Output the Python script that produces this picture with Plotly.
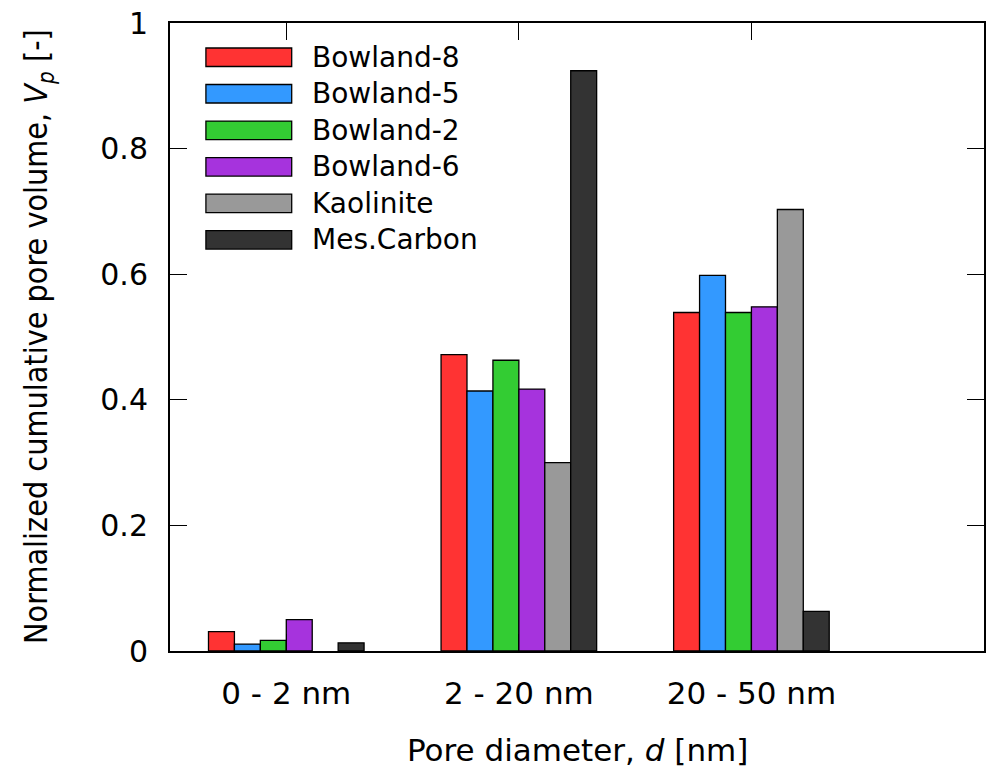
import plotly.graph_objects as go

categories = ["0 - 2 nm", "2 - 20 nm", "20 - 50 nm"]
series_names = ["Bowland-8", "Bowland-5", "Bowland-2", "Bowland-6", "Kaolinite", "Mes.Carbon"]
bowland8 = [0.031, 0.472, 0.539]
bowland5 = [0.011, 0.414, 0.598]
bowland2 = [0.017, 0.463, 0.539]
bowland6 = [0.050, 0.417, 0.548]
kaolinite = [None, 0.300, 0.703]
mes_carbon = [0.013, 0.924, 0.063]
y_ticks = [0, 0.2, 0.4, 0.6, 0.8, 1]
y_tick_labels = ["0", "0.2", "0.4", "0.6", "0.8", "1"]

values = [bowland8, bowland5, bowland2, bowland6, kaolinite, mes_carbon]
colors = ["#ff3333", "#3399ff", "#33cc33", "#a633dd", "#999999", "#333333"]

W, H = 991, 776
L, R, T, B = 170, 986, 20, 651  # plot area in px
FONT = "DejaVu Sans"

fig = go.Figure()
for name, vals, col in zip(series_names, values, colors):
    fig.add_trace(go.Bar(
        x=[0, 1, 2], y=vals, name=name,
        marker=dict(color=col, line=dict(color="black", width=1.3)),
        showlegend=False,
    ))

def px_x(p):
    return (p - L) / (R - L)

def px_y(p):
    return (B - p) / (B - T)

shapes = []
annotations = []
row0 = 54.4
dy = 36.7
for i, (name, col) in enumerate(zip(series_names, colors)):
    yc = row0 + i * dy
    shapes.append(dict(
        type="rect", xref="paper", yref="paper",
        x0=px_x(206), x1=px_x(292), y0=px_y(yc - 9.3), y1=px_y(yc + 9.3),
        fillcolor=col, line=dict(color="black", width=1.3),
    ))
    annotations.append(dict(
        xref="paper", yref="paper", x=px_x(310), y=px_y(yc),
        xanchor="left", yanchor="middle", text=name, showarrow=False,
        font=dict(family=FONT, size=28, color="black"),
    ))

annotations.append(dict(
    xref="paper", yref="paper", x=0.5, y=0, yshift=-(750 - B),
    xanchor="center", yanchor="middle",
    text="Pore diameter, <i>d</i> [nm]", showarrow=False,
    font=dict(family=FONT, size=31, color="black"),
))
annotations.append(dict(
    xref="paper", yref="paper", x=0, y=0.5, xshift=-(L - 38),
    xanchor="center", yanchor="middle", textangle=-90,
    text="Normalized cumulative pore volume, <i>V<sub>p</sub></i> [-]", showarrow=False,
    font=dict(family="DejaVu Sans Condensed, DejaVu Sans", size=32, color="black"),
))

fig.update_layout(
    width=W, height=H,
    margin=dict(l=L, r=W - R, t=T, b=H - B, pad=0),
    paper_bgcolor="white", plot_bgcolor="white",
    barmode="group", bargap=0.331, bargroupgap=0,
    font=dict(family=FONT, size=30, color="black"),
    shapes=shapes, annotations=annotations,
    xaxis=dict(
        range=[-0.5, 3.0], tickmode="array", tickvals=[0, 1, 2], ticktext=categories,
        ticks="inside", ticklen=17, tickwidth=1.3, tickcolor="black",
        showline=True, linewidth=2, linecolor="black", mirror="ticks",
        showgrid=False, zeroline=False, ticklabelstandoff=14,
        tickfont=dict(family=FONT, size=31, color="black"),
    ),
    yaxis=dict(
        range=[0, 1], tickmode="array", tickvals=y_ticks, ticktext=y_tick_labels,
        ticks="inside", ticklen=17, tickwidth=1.3, tickcolor="black",
        showline=True, linewidth=2, linecolor="black", mirror="ticks",
        showgrid=False, zeroline=False, ticklabelstandoff=14,
        tickfont=dict(family=FONT, size=30, color="black"),
    ),
)

fig.write_html("out.html")
